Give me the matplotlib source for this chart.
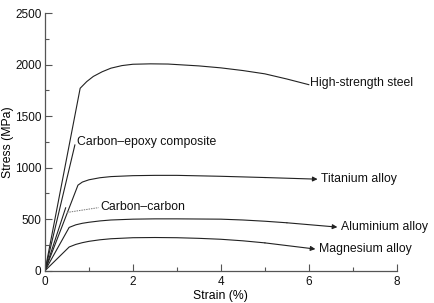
import numpy as np
import matplotlib
matplotlib.use('Agg')
import matplotlib.pyplot as plt

plt.rcParams['font.family'] = ['Liberation Sans', 'DejaVu Sans']

# stress-strain curves (strain %, stress MPa)
steel_x = [0, 0.8, 0.95, 1.1, 1.3, 1.5, 1.75, 2.0, 2.4, 2.8, 3.5, 4.0, 4.5, 5.0, 5.5, 6.0]
steel_y = [0, 1770, 1835, 1885, 1930, 1965, 1990, 2003, 2007, 2005, 1987, 1968, 1942, 1910, 1860, 1805]

epoxy_x = [0, 0.68]
epoxy_y = [0, 1220]

cc_x = [0, 0.47]
cc_y = [0, 610]

ti_x = [0, 0.75, 0.85, 1.0, 1.25, 1.5, 2.0, 2.5, 3.0, 4.0, 5.0, 6.2]
ti_y = [0, 830, 860, 882, 902, 913, 922, 925, 925, 916, 904, 888]

al_x = [0, 0.55, 0.7, 0.85, 1.0, 1.25, 1.5, 2.0, 2.5, 3.0, 4.0, 4.5, 5.0, 5.5, 6.65]
al_y = [0, 420, 445, 460, 470, 483, 492, 500, 503, 503, 500, 492, 480, 465, 423]

mg_x = [0, 0.55, 0.7, 0.85, 1.0, 1.25, 1.5, 2.0, 2.5, 3.0, 3.5, 4.0, 4.5, 5.0, 6.15]
mg_y = [0, 230, 255, 272, 285, 300, 310, 320, 322, 320, 314, 305, 290, 270, 210]

labels = {
    'High-strength steel': (6.02, 1825),
    'Carbon\u2013epoxy composite': (0.73, 1250),
    'Titanium alloy': (6.27, 889),
    'Carbon\u2013carbon': (1.26, 622),
    'Aluminium alloy': (6.74, 422),
    'Magnesium alloy': (6.24, 211),
}

fig = plt.figure(figsize=(4.35, 3.03), dpi=100)
ax = fig.add_axes([0.1034, 0.1066, 0.8086, 0.8504])

lc = '#222222'
lw = 0.8
ax.plot(steel_x, steel_y, color=lc, lw=lw)
ax.plot(epoxy_x, epoxy_y, color=lc, lw=lw)
ax.plot(cc_x, cc_y, color=lc, lw=lw)

# curves that end in an arrow
for xs, ys in [(ti_x, ti_y), (al_x, al_y), (mg_x, mg_y)]:
    ax.plot(xs[:-1], ys[:-1], color=lc, lw=lw)
    ax.annotate('', xy=(xs[-1], ys[-1]), xytext=(xs[-2], ys[-2]),
                arrowprops=dict(arrowstyle='-|>', color=lc, lw=lw,
                                mutation_scale=7, shrinkA=0, shrinkB=0))

# carbon-carbon leader
ax.plot([0.5, 1.22], [565, 612], color='#777777', lw=0.7, ls=(0, (1.5, 1)))

for txt, (x, y) in labels.items():
    ax.text(x, y, txt, fontsize=8.8, va='center', ha='left', color='#111111')

ax.set_xlim(0, 8)
ax.set_ylim(0, 2500)
ax.set_xticks([0, 2, 4, 6, 8])
ax.set_xticks([1, 3, 5, 7], minor=True)
ax.set_yticks([0, 500, 1000, 1500, 2000, 2500])
ax.set_yticks([250, 750, 1250, 1750, 2250], minor=True)
ax.tick_params(which='both', direction='in', labelsize=8.5, colors='#555555',
               labelcolor='#111111', width=0.8)
ax.tick_params(which='major', length=5)
ax.tick_params(which='minor', length=3)
ax.tick_params(axis='y', pad=2.5)
for s in ['top', 'right']:
    ax.spines[s].set_visible(False)
for s in ['left', 'bottom']:
    ax.spines[s].set_color('#555555')
    ax.spines[s].set_linewidth(0.9)

ax.set_xlabel('Strain (%)', fontsize=8.8, labelpad=2)
ax.set_ylabel('Stress (MPa)', fontsize=8.8)
ax.yaxis.set_label_coords(-0.088, 0.5)

fig.savefig('out.png', dpi=100)
